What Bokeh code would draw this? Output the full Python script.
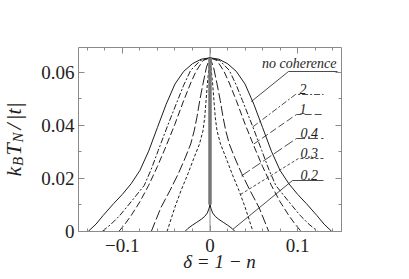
import math
from bokeh.plotting import figure
from bokeh.models import Label, FixedTicker, CustomJSTickFormatter, LinearAxis
from bokeh.embed import file_html
from bokeh.resources import INLINE

# ---- data ----
nc_x = [-0.139, -0.130, -0.122, -0.110, -0.100, -0.090, -0.080, -0.070, -0.060, -0.050, -0.040, -0.030, -0.020, -0.010, 0.0,
        0.010, 0.020, 0.030, 0.040, 0.050, 0.060, 0.070, 0.080, 0.090, 0.100, 0.110, 0.122, 0.130, 0.139]
nc_y = [0.0, 0.0028, 0.0060, 0.0105, 0.0140, 0.0180, 0.0230, 0.0303, 0.0392, 0.0480, 0.0556, 0.0604, 0.0633, 0.0650, 0.0655,
        0.0650, 0.0633, 0.0604, 0.0556, 0.0480, 0.0392, 0.0303, 0.0230, 0.0180, 0.0140, 0.0105, 0.0060, 0.0028, 0.0]

c2_x = [-0.123, -0.113, -0.103, -0.090, -0.075, -0.067, -0.059, -0.048, -0.037, -0.030, -0.022, -0.011, 0.0,
        0.011, 0.022, 0.030, 0.037, 0.048, 0.059, 0.067, 0.075, 0.090, 0.103, 0.113, 0.123]
c2_y = [0.0, 0.0027, 0.0060, 0.0112, 0.0174, 0.0235, 0.0306, 0.0402, 0.0494, 0.0552, 0.0608, 0.0645, 0.0655,
        0.0645, 0.0608, 0.0552, 0.0494, 0.0402, 0.0306, 0.0235, 0.0174, 0.0112, 0.0060, 0.0027, 0.0]

c1_x = [-0.104, -0.097, -0.090, -0.080, -0.070, -0.060, -0.051, -0.040, -0.030, -0.022, -0.016, -0.008, 0.0,
        0.008, 0.016, 0.022, 0.030, 0.040, 0.051, 0.060, 0.070, 0.080, 0.090, 0.097, 0.104]
c1_y = [0.0, 0.0028, 0.0060, 0.0112, 0.0174, 0.0245, 0.0315, 0.0405, 0.0494, 0.0560, 0.0604, 0.0645, 0.0655,
        0.0645, 0.0604, 0.0560, 0.0494, 0.0405, 0.0315, 0.0245, 0.0174, 0.0112, 0.0060, 0.0028, 0.0]

c04_x = [-0.067, -0.056, -0.0456, -0.036, -0.028, -0.022, -0.018, -0.0149, -0.0117, -0.008, -0.004, 0.0,
         0.004, 0.008, 0.0117, 0.0149, 0.018, 0.022, 0.028, 0.036, 0.0456, 0.056, 0.067]
c04_y = [0.0, 0.0090, 0.0155, 0.0219, 0.0280, 0.0330, 0.0380, 0.0431, 0.0494, 0.0557, 0.0620, 0.0655,
         0.0620, 0.0557, 0.0494, 0.0431, 0.0380, 0.0330, 0.0280, 0.0219, 0.0155, 0.0090, 0.0]

c03_x = [-0.049, -0.040, -0.033, -0.025, -0.018, -0.012, -0.008, -0.006, -0.003, 0.0,
         0.003, 0.006, 0.008, 0.012, 0.018, 0.025, 0.033, 0.040, 0.049]
c03_y = [0.0, 0.0092, 0.0155, 0.0219, 0.0280, 0.0330, 0.0380, 0.0431, 0.0557, 0.0655,
         0.0557, 0.0431, 0.0380, 0.0330, 0.0280, 0.0219, 0.0155, 0.0092, 0.0]

c02_x = [-0.0286, -0.025, -0.020, -0.015, -0.010, -0.006, -0.003, -0.001, 0.0,
         0.001, 0.003, 0.006, 0.010, 0.015, 0.020, 0.025, 0.0286]
c02_y = [0.0, 0.0012, 0.0024, 0.0035, 0.0046, 0.0057, 0.0070, 0.0088, 0.0102,
         0.0088, 0.0070, 0.0057, 0.0046, 0.0035, 0.0024, 0.0012, 0.0]
c02_jump_x = [0.0, 0.0]
c02_jump_y = [0.0102, 0.0655]

series_labels = ["no coherence", "2", "1", "0.4", "0.3", "0.2"]

x_ticks = [-0.1, 0.0, 0.1]
x_minor = [-0.14, -0.12, -0.10, -0.08, -0.06, -0.04, -0.02, 0.0, 0.02, 0.04, 0.06, 0.08, 0.10, 0.12, 0.14]
y_ticks = [0.0, 0.02, 0.04, 0.06]
y_minor = [0.0, 0.01, 0.02, 0.03, 0.04, 0.05, 0.06]

# ---- layout: the canvas is all frame; the visible box is drawn by fixed axes ----
W, H = 401, 271                 # canvas size
BOX_L, BOX_R, BOX_T, BOX_B = 78, 341, 47, 231   # box edges in canvas px
X0, X1 = -0.15, 0.15            # box data range
Y0, Y1 = 0.0, 0.0694
sx = (BOX_R - BOX_L) / (X1 - X0)
sy = (BOX_B - BOX_T) / (Y1 - Y0)
XS, XE = X0 - BOX_L / sx, X1 + (W - BOX_R) / sx
YS, YE = Y0 - (H - BOX_B) / sy, Y1 + BOX_T / sy

p = figure(frame_width=W, frame_height=H, x_range=(XS, XE), y_range=(YS, YE),
           output_backend="svg", toolbar_location=None, x_axis_type=None, y_axis_type=None,
           min_border=0, min_border_left=0, min_border_right=0, min_border_top=0, min_border_bottom=0)
p.background_fill_color = "white"
p.border_fill_color = "white"
p.outline_line_color = None
p.xgrid.visible = False
p.ygrid.visible = False

def dx(px):  # canvas px -> data x
    return XS + px / sx

def dy(py):  # canvas py -> data y
    return YE - py / sy

FONT = "Liberation Serif"
AX = "#8a8a8a"
xfmt = CustomJSTickFormatter(code="""
const v = Math.round(tick*10)/10;
if (Math.abs(v) < 1e-9) return '0';
return (v < 0 ? '\\u2212' : '') + Math.abs(v).toFixed(1);
""")
yfmt = CustomJSTickFormatter(code="""
const v = Math.round(tick*100)/100;
if (Math.abs(v) < 1e-9) return '0';
return v.toFixed(2);
""")

def make_axis(side, loc, bounds, ticks, minor, fmt, standoff):
    ax = LinearAxis(fixed_location=loc, bounds=bounds)
    ax.ticker = FixedTicker(ticks=ticks, minor_ticks=minor)
    ax.axis_line_color = AX
    ax.major_tick_line_color = AX
    ax.minor_tick_line_color = AX
    ax.major_tick_in = 6
    ax.major_tick_out = 0
    ax.minor_tick_in = 3
    ax.minor_tick_out = 0
    if fmt is None:
        ax.major_label_text_font_size = "0px"
        ax.major_label_text_alpha = 0
    else:
        ax.formatter = fmt
        ax.major_label_text_font = FONT
        ax.major_label_text_font_size = "19px"
        ax.major_label_text_color = "#222222"
        ax.major_label_standoff = standoff
    p.add_layout(ax, side)
    return ax

make_axis("below", Y0, (X0, X1), x_ticks, x_minor, xfmt, 7)
make_axis("above", Y1, (X0, X1), x_ticks, x_minor, None, 0)
make_axis("left", X0, (Y0, Y1), y_ticks, y_minor, yfmt, 4)
make_axis("right", X1, (Y0, Y1), y_ticks, y_minor, None, 0)

# vertical line at delta = 0
p.line([0.0, 0.0], [Y0, Y1], line_color="#8a8a8a", line_width=1)

CUR = "#1e1e1e"
styles = [
    (nc_x, nc_y, "solid"),
    (c2_x, c2_y, "6 2 2 2"),
    (c1_x, c1_y, "7 3"),
    (c04_x, c04_y, "10 3"),
    (c03_x, c03_y, "3 2"),
    (c02_x, c02_y, "solid"),
]
for xs, ys, dash in styles:
    p.line(xs, ys, line_color=CUR, line_width=1, line_dash=dash)
p.line(c02_jump_x, c02_jump_y, line_color="#777777", line_width=3.5)

# labels with underline + leader lines (positions in canvas px)
label_specs = [
    ("no coherence", (0.047, 0.049), 71, 288, 337, 336, "right"),
    ("2", (0.049, 0.0395), 94, 295, 323, 299, "left"),
    ("1", (0.050, 0.033), 114, 296, 323, 299, "left"),
    ("0.4", (0.036, 0.021), 138, 296, 323, 300, "left"),
    ("0.3", (0.035, 0.014), 158, 298, 323, 300, "left"),
    ("0.2", (0.026, 0.0008), 180, 292, 323, 300, "left"),
]
for (txt, end, uy, ux0, ux1, tx, al), (_, _, dash) in zip(label_specs, styles):
    p.line([end[0], dx(ux0), dx(ux1)], [end[1], dy(uy), dy(uy)],
           line_color=CUR, line_width=0.8, line_dash=dash)
    p.add_layout(Label(x=dx(tx), y=dy(uy - 1), text=txt, text_font=FONT, text_font_style="italic",
                       text_font_size="14px", text_color="#1e1e1e", text_align=al,
                       text_baseline="bottom"))

# x-axis title
p.add_layout(Label(x=dx(219), y=dy(271), text="δ = 1 − n", text_font=FONT, text_font_style="italic",
                   text_font_size="19px", text_color="#1e1e1e", text_align="center",
                   text_baseline="bottom"))

# y-axis title: k_B T_N / |t| (rotated, composed of pieces)
pieces = [
    ("k", 13, 176, "22px"),
    ("B", 17, 165.5, "15px"),
    ("T", 13, 155, "22px"),
    ("N", 17, 142, "15px"),
    ("/", 13, 129, "22px"),
    ("|t|", 13, 120, "22px"),
]
for txt, bx, by, fs in pieces:
    p.add_layout(Label(x=dx(bx), y=dy(by), text=txt, angle=math.pi / 2, text_font=FONT,
                       text_font_style="italic", text_font_size=fs, text_color="#1e1e1e",
                       text_align="left", text_baseline="alphabetic"))

open("out.html", "w").write(file_html(p, INLINE))
